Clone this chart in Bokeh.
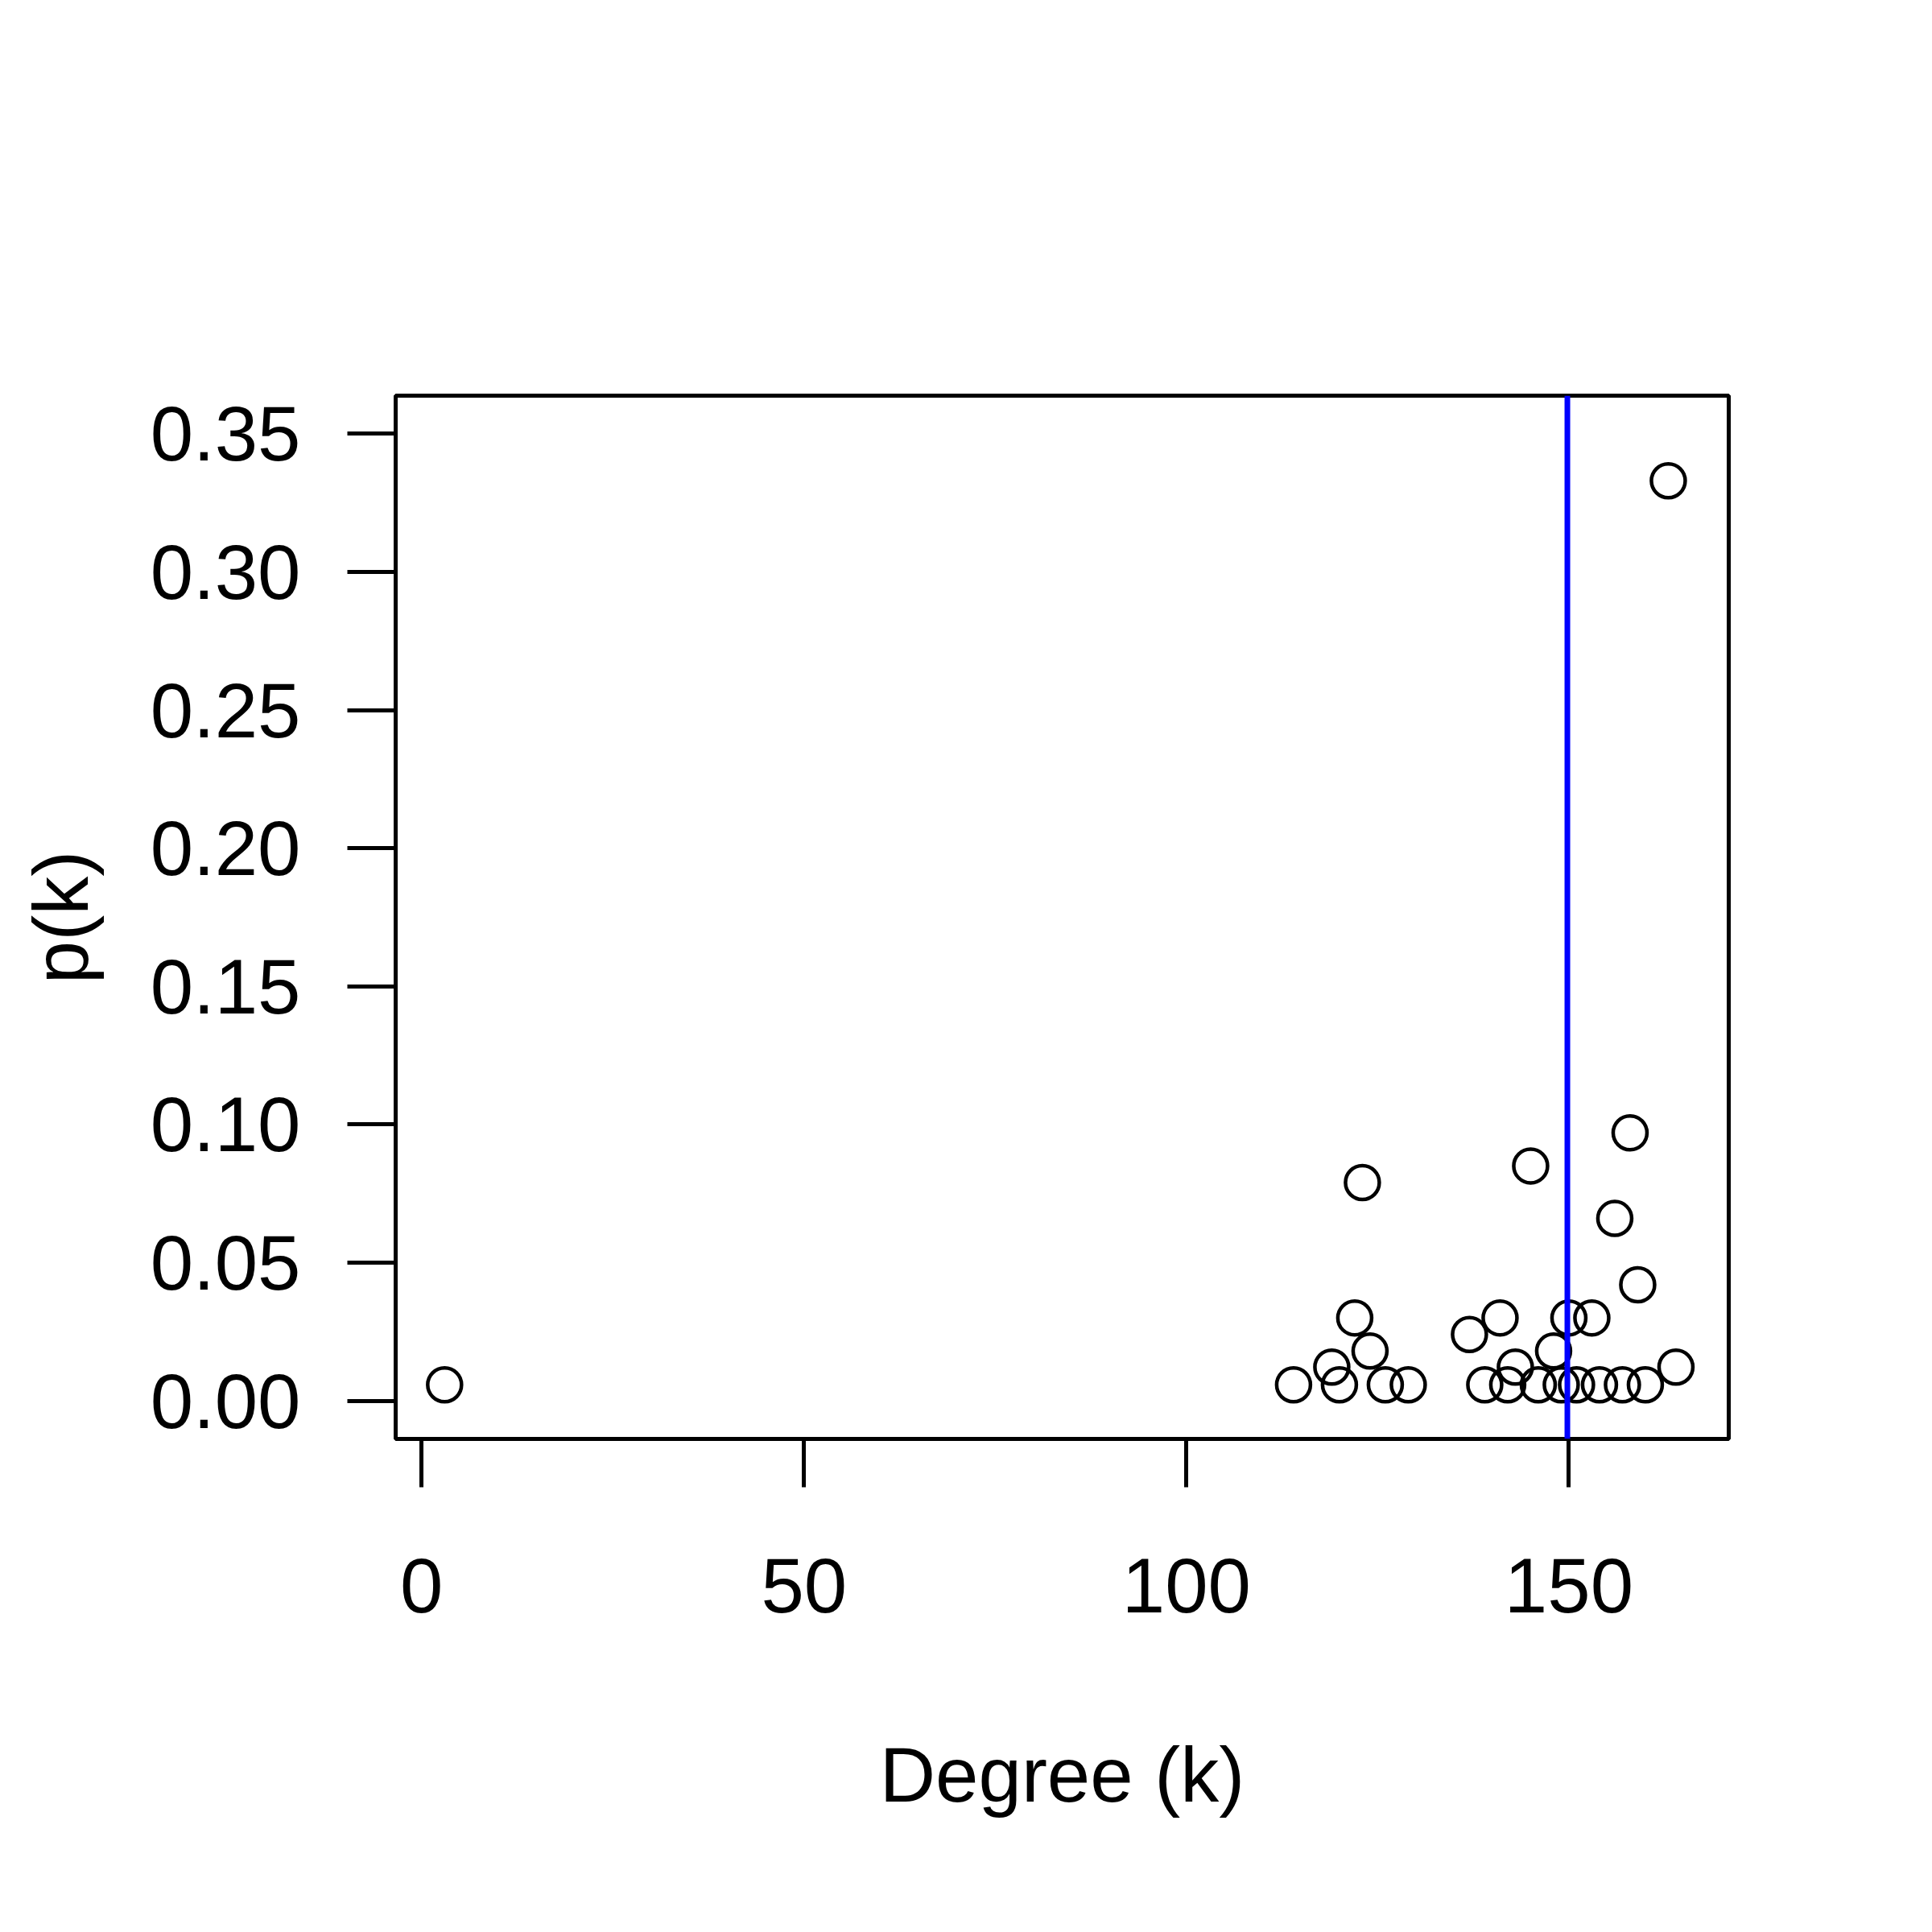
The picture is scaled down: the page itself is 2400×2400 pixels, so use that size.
from bokeh.plotting import figure
from bokeh.models import Span, FixedTicker, CustomJSTickFormatter
from bokeh.embed import file_html
from bokeh.resources import INLINE

# degree values and p(k)
degree = [3, 114, 120, 126, 129, 139, 142, 146, 149, 151, 154, 157, 160,
          119, 143, 164, 124, 148, 137, 122, 141, 150, 153,
          159, 156, 123, 145, 158, 163]
pk = [0.0058, 0.0058, 0.0058, 0.0058, 0.0058, 0.0058, 0.0058, 0.0058, 0.0058,
      0.0058, 0.0058, 0.0058, 0.0058,
      0.0122, 0.0122, 0.0122, 0.018, 0.018, 0.024, 0.030, 0.030, 0.030, 0.030,
      0.042, 0.066, 0.079, 0.085, 0.097, 0.333]
mean_degree = 149.8
x_ticks = [0, 50, 100, 150]
y_ticks = [0.0, 0.05, 0.10, 0.15, 0.20, 0.25, 0.30, 0.35]

FONT = "Liberation Sans"

p = figure(width=2384, height=2384, output_backend="svg", toolbar_location=None,
           x_range=(-3.4, 170.9), y_range=(-0.0138, 0.3638),
           min_border_left=491, min_border_top=491, min_border_right=237,
           min_border_bottom=597)
p.grid.visible = False
p.outline_line_color = "black"
p.outline_line_width = 5

p.scatter(degree, pk, size=42, fill_color=None, line_color="black", line_width=4.5)
p.add_layout(Span(location=mean_degree, dimension="height",
                  line_color="#0000ff", line_width=7))

p.xaxis.ticker = FixedTicker(ticks=x_ticks)
p.yaxis.ticker = FixedTicker(ticks=y_ticks)
p.yaxis.formatter = CustomJSTickFormatter(code="return tick.toFixed(2);")

for ax in (p.xaxis[0], p.yaxis[0]):
    ax.axis_line_color = None
    ax.major_tick_line_width = 5
    ax.major_tick_out = 60
    ax.major_tick_in = 0
    ax.minor_tick_line_color = None
    ax.major_label_text_font = FONT
    ax.major_label_text_font_size = "96px"
    ax.major_label_text_color = "black"
    ax.axis_label_text_font = FONT
    ax.axis_label_text_font_size = "96px"
    ax.axis_label_text_font_style = "normal"
    ax.axis_label_text_color = "black"

p.xaxis.axis_label = "Degree (k)"
p.yaxis.axis_label = "p(k)"
p.xaxis.major_label_standoff = 88
p.xaxis.axis_label_standoff = 145
p.yaxis.major_label_standoff = 58
p.yaxis.axis_label_standoff = 55

open("out.html", "w").write(file_html(p, INLINE))
